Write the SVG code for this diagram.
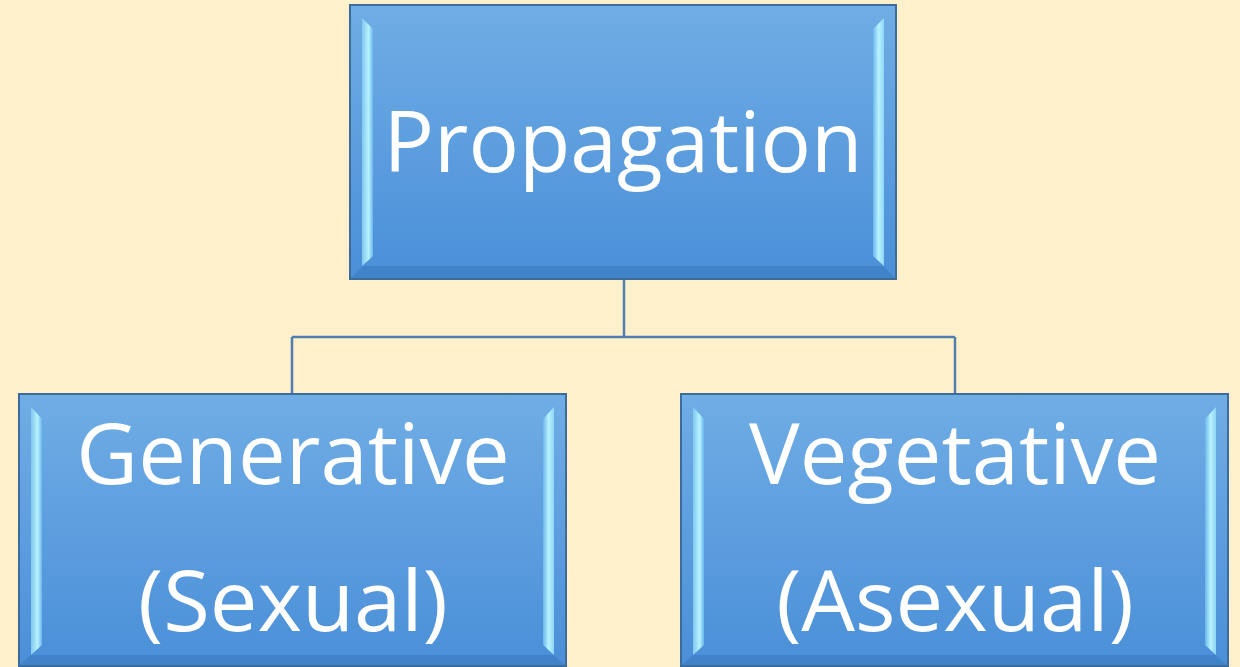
<svg xmlns="http://www.w3.org/2000/svg" width="1240" height="667" viewBox="0 0 1240 667">
<defs>
<linearGradient id="fill" x1="0" y1="0" x2="0" y2="1">
<stop offset="0" stop-color="#70ADE5"/>
<stop offset="1" stop-color="#4A8FD8"/>
</linearGradient>
<linearGradient id="bevL" x1="0" y1="0" x2="1" y2="0">
<stop offset="0" stop-color="#7FC8EE"/>
<stop offset="0.6" stop-color="#B8F2FF"/>
<stop offset="1" stop-color="#6AB6EC"/>
</linearGradient>
<linearGradient id="bevR" x1="0" y1="0" x2="1" y2="0">
<stop offset="0" stop-color="#6AB6EC"/>
<stop offset="0.5" stop-color="#B8F2FF"/>
<stop offset="1" stop-color="#8ED6F5"/>
</linearGradient>
</defs>
<style>
.box{fill:url(#fill);stroke:#3D6B9C;stroke-width:2}
.bl{fill:url(#bevL)}
.br{fill:url(#bevR)}
.bb{fill:#3F7FC4;opacity:0.8}
.t{font-family:"Open Sans","Liberation Sans",sans-serif;fill:#FFFFFF;text-anchor:middle}
.c{fill:none;stroke:#4F7FAF;stroke-width:2.5}
</style>
<rect width="1240" height="667" fill="#FFF0CC"/>
<g id="connectors">
<path class="c" d="M624 280 V337 M292 337 H955 M292 337 V394 M955 337 V394"/>
</g>
<g id="propagation">
<rect class="box" x="350" y="5" width="546" height="274"/>
<polygon class="bb" points="351,278 895,278 883,266 363,266"/>
<polygon class="bl" points="362,18 373,29 373,256 362,266"/>
<polygon class="br" points="884,18 873,29 873,256 884,266"/>
<text class="t" x="623" y="172" font-size="84">Propagation</text>
</g>
<g id="generative">
<rect class="box" x="19" y="394" width="547" height="272"/>
<polygon class="bb" points="20,665 565,665 553,655 31,655"/>
<polygon class="bl" points="31,407 42,419 42,645 31,655"/>
<polygon class="br" points="554,407 543,419 543,645 554,655"/>
<text class="t" x="293" y="484" font-size="85">Generative</text>
<text class="t" x="293" y="631" font-size="85">(Sexual)</text>
</g>
<g id="vegetative">
<rect class="box" x="681" y="394" width="547" height="272"/>
<polygon class="bb" points="682,665 1227,665 1215,655 693,655"/>
<polygon class="bl" points="693,407 704,419 704,645 693,655"/>
<polygon class="br" points="1216,407 1205,419 1205,645 1216,655"/>
<text class="t" x="955" y="484" font-size="85">Vegetative</text>
<text class="t" x="955" y="631" font-size="85">(Asexual)</text>
</g>
</svg>
